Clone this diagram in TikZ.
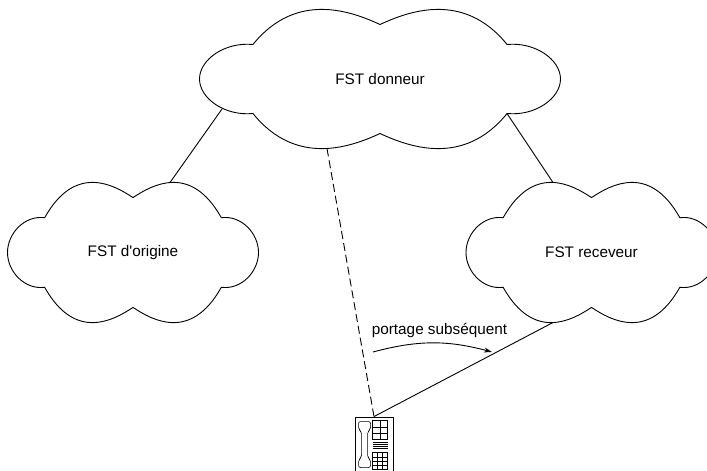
\documentclass[tikz,border=0pt]{standalone}
\usepackage{fontspec}
\setmainfont{Liberation Sans}
\usetikzlibrary{calc, arrows.meta}

\begin{document}
\begin{tikzpicture}[x=1pt, y=-1pt, >={Stealth[length=8pt, width=5pt]}, line width=0.9pt,
		fst/.style={font=\fontsize{15.3}{18}\selectfont, inner sep=0pt},
		fstcloud/.pic={
			\draw (-0.352,0.25) .. controls (-0.231,0.641) and (-0.078,0.489) .. (0,0.395)
				.. controls (0.078,0.489) and (0.231,0.641) .. (0.352,0.25)
				.. controls (0.43,0.27) and (0.5,0.14) .. (0.5,0)
				.. controls (0.5,-0.14) and (0.43,-0.27) .. (0.352,-0.25)
				.. controls (0.231,-0.641) and (0.078,-0.489) .. (0,-0.395)
				.. controls (-0.078,-0.489) and (-0.231,-0.641) .. (-0.352,-0.25)
				.. controls (-0.43,-0.27) and (-0.5,-0.14) .. (-0.5,0)
				.. controls (-0.5,0.14) and (-0.43,0.27) .. (-0.352,0.25) -- cycle;
		}]
	\useasboundingbox (0,0) rectangle (707,471);

	\node[fst] (donneur) at (380,79) {FST donneur};
	\node[fst] (origine) at (133,252.5) {FST d\textquotesingle origine};
	\node[fst] (receveur) at (591.5,252.5) {FST receveur};
	\node[draw, minimum width=38pt, minimum height=55pt, inner sep=0pt] (phone) at (374,444.5) {};
	\node[fst] (portage) at (439.5,330) {portage subséquent};

	\pic[x=361pt, y=138pt] at (donneur) {fstcloud};
	\pic[x=251pt, y=139pt] at (origine) {fstcloud};
	\pic[x=251pt, y=139pt] at (receveur) {fstcloud};

	\draw ($(donneur)+(-158,30)$) -- ($(origine)+(37,-70)$);
	\draw ($(donneur)+(127,34.5)$) -- ($(receveur)+(-38.5,-70)$);
	\draw[dash pattern=on 8pt off 4pt] ($(donneur)+(-53,69.5)$) -- (phone.north);
	\draw (phone.north) -- ($(receveur)+(-38.5,70)$);

	\coordinate (pstart) at (373,352);
	\coordinate (pend) at (492,352);
	\draw[->] (pstart) to[bend left=15] (pend);

	\begin{scope}[shift={(phone.north west)}, line width=0.6pt]
		\draw[rounded corners=2pt] (4,5) -- (16,5) -- (16,13) -- (13,15) -- (13,41) -- (16,43) -- (16,51)
			-- (4,51) -- (4,43) -- (7,41) -- (7,15) -- (4,13) -- cycle;
		\draw (18,4) rectangle (33,23);
		\draw (25.5,4) -- (25.5,23);
		\foreach \y in {10.3,16.7}
			\draw (18,\y) -- (33,\y);
		\foreach \y in {26,28,30,32}
			\draw (18,\y) -- (33,\y);
		\draw (18,36) rectangle (33,53);
		\foreach \x in {23,28}
			\draw (\x,36) -- (\x,53);
		\foreach \y in {40.25,44.5,48.75}
			\draw (18,\y) -- (33,\y);
	\end{scope}
\end{tikzpicture}
\end{document}
